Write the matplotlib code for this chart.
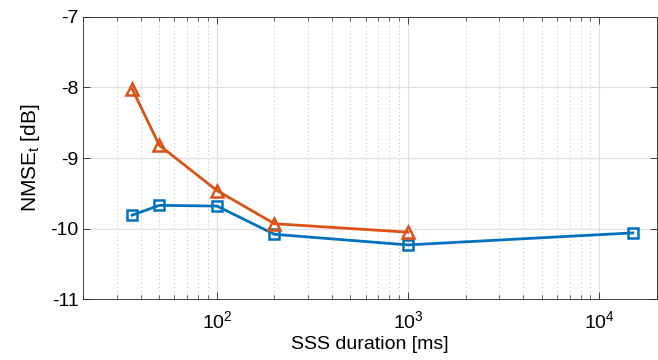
import matplotlib
matplotlib.use('Agg')
import matplotlib.pyplot as plt
from matplotlib.ticker import LogLocator, FixedLocator

plt.rcParams['font.family'] = ['Liberation Sans', 'DejaVu Sans']
plt.rcParams['mathtext.fontset'] = 'custom'
plt.rcParams['mathtext.rm'] = 'Liberation Sans'
plt.rcParams['mathtext.it'] = 'Liberation Sans:italic'
plt.rcParams['axes.unicode_minus'] = False

# data
dur_blue = [36, 50, 100, 200, 1000, 15000]
nmse_blue = [-9.81, -9.67, -9.68, -10.08, -10.23, -10.06]
dur_orange = [36, 50, 100, 200, 1000]
nmse_orange = [-8.02, -8.82, -9.46, -9.93, -10.05]

blue = '#0072BD'
orange = '#D95319'

fig = plt.figure(figsize=(6.58, 3.6), dpi=100)
ax = fig.add_axes([0.1266, 0.1686, 0.8714, 0.785])

ax.plot(dur_blue, nmse_blue, color=blue, lw=2, marker='s', ms=7,
        mfc='none', mec=blue, mew=1.8, zorder=3)
ax.plot(dur_orange, nmse_orange, color=orange, lw=2, marker='^', ms=9,
        mfc='none', mec=orange, mew=1.8, zorder=3)

ax.set_xscale('log')
ax.set_xlim(20, 20000)
ax.set_ylim(-11, -7)
ax.yaxis.set_major_locator(FixedLocator([-11, -10, -9, -8, -7]))
ax.xaxis.set_major_locator(LogLocator(base=10, numticks=10))
ax.xaxis.set_minor_locator(LogLocator(base=10, subs=range(2, 10), numticks=20))

ax.grid(True, which='major', color='#e0e0e0', lw=0.9)
ax.grid(True, which='minor', axis='x', color='#bdbdbd', lw=0.7, ls=(0, (1, 3)))
ax.set_axisbelow(True)

ax.tick_params(which='both', direction='in', top=True, right=True,
               color='#262626', labelsize=14)
ax.tick_params(which='major', length=5, width=0.6)
ax.tick_params(which='minor', length=3, width=0.5)
ax.tick_params(axis='x', which='major', pad=8)
for s in ax.spines.values():
    s.set_color('#262626')
    s.set_linewidth(0.6)

ax.set_xlabel('SSS duration [ms]', fontsize=14, labelpad=3)
ax.set_ylabel(r'NMSE$_{\mathrm{t}}$ [dB]', fontsize=15, labelpad=6)

fig.savefig('out.png', dpi=100)
